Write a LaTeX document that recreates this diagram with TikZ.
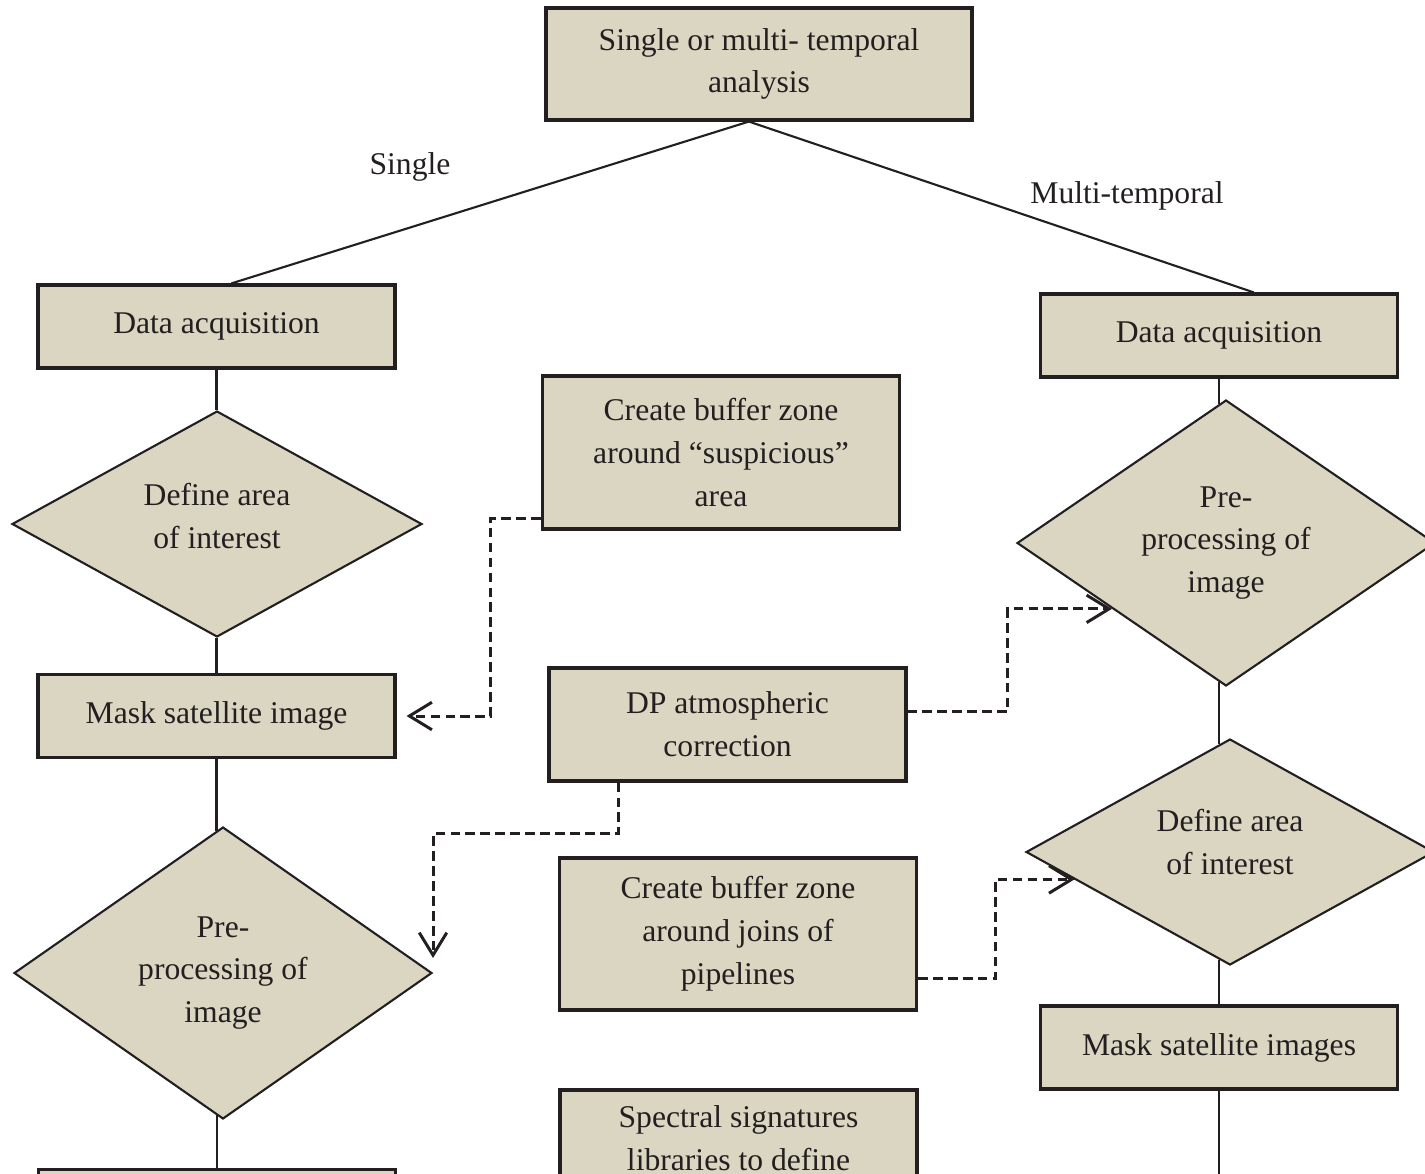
\documentclass[tikz,border=0pt]{standalone}
\usepackage{fontspec}
\setmainfont{Liberation Serif}
\usetikzlibrary{shapes.geometric,arrows.meta}
\definecolor{boxfill}{RGB}{219,214,194}
\definecolor{ink}{RGB}{35,31,32}
\tikzstyle{block} =
        [
                rectangle,
                draw = ink,
                fill = boxfill,
                line width = 1.8pt,
                align = center,
                inner sep = 0pt,
                minimum width = 7.14cm,
                minimum height = 1.66cm
        ]
\tikzstyle{decision} =
        [
                diamond,
                draw = ink,
                fill = boxfill,
                line width = 1.2pt,
                align = center,
                aspect = 1.6,
                inner sep = 0pt
        ]
\tikzstyle{line} =
        [
                draw = ink,
                line width = 1.2pt
        ]
\tikzstyle{hint} =
        [
                draw = ink,
                line width = 1.7pt,
                dash pattern = on 5.5pt off 3pt,
                -{Straight Barb[length=0.45cm,width=0.55cm,line width=1.7pt]}
        ]

\begin{document}
\begin{tikzpicture}[x=0.02cm, y=-0.02cm, font=\fontsize{18}{24.4}\selectfont, text=ink]
    \useasboundingbox (0,0) rectangle (1425,1173);
    \clip (0,0) rectangle (1425,1173);
    % top
    \node [block, minimum width = 8.52cm, minimum height = 2.24cm] (analysis) at (759,64) {Single or multi- temporal\\analysis};
    \node (single-label) at (410,167) {Single};
    \node (multi-label) at (1127,196) {Multi-temporal};
    % single branch
    \node [block] (acq-single) at (216.5,326.5) {Data acquisition};
    \node [decision, minimum width = 8.2cm, minimum height = 4.52cm, text depth = 0.32cm] (area-single) at (217,524) {Define area\\of interest};
    \node [block] (mask-single) at (216.5,716) {Mask satellite image};
    \node [decision, minimum width = 8.36cm, minimum height = 5.84cm] (preproc-single) at (223,973) {Pre-\\processing of\\image};
    \node [block] (next-single) at (217,1211) {};
    % middle
    \node [block, minimum height = 3.06cm] (buffer-suspicious) at (721,452.5) {Create buffer zone\\around “suspicious”\\area};
    \node [block, minimum height = 2.26cm] (dp-correction) at (727.5,724.5) {DP atmospheric\\correction};
    \node [block, minimum height = 3.04cm] (buffer-joins) at (738,934) {Create buffer zone\\around joins of\\pipelines};
    \node [block, minimum height = 3.04cm] (spectral) at (738.5,1166) {Spectral signatures\\libraries to define\\\strut};
    % multi-temporal branch
    \node [block] (acq-multi) at (1219,335.5) {Data acquisition};
    \node [decision, minimum width = 8.36cm, minimum height = 5.72cm] (preproc-multi) at (1226,543) {Pre-\\processing of\\image};
    \node [decision, minimum width = 8.16cm, minimum height = 4.52cm, text depth = 0.4cm] (area-multi) at (1230,852) {Define area\\of interest};
    \node [block] (mask-multi) at (1219,1047.5) {Mask satellite images};
    \coordinate (multi-end) at (1219,1185);

    \path [line] (analysis.260) -- (acq-single.71);
    \path [line] (analysis.260) -- (acq-multi.51);
    \path [line] (acq-single.south) -- (acq-single.south |- area-single.north);
    \path [line] (mask-single.north |- area-single.south) -- (mask-single.north);
    \path [line] (mask-single.south) -- (mask-single.south |- preproc-single.93);
    \path [line] (next-single.north |- preproc-single.267) -- (next-single.north);
    \path [line] (acq-multi.south) -- (acq-multi.south |- preproc-multi.93);
    \path [line] (acq-multi.south |- preproc-multi.267) -- (acq-multi.south |- area-multi.96);
    \path [line] (mask-multi.north |- area-multi.264) -- (mask-multi.north);
    \path [line] (mask-multi.south) -- (multi-end);

    \path [hint, shorten > = 0.2cm] (buffer-suspicious.200) -- ++(-50,0) |- (mask-single.east);
    \path [hint, shorten > = 0.3cm] (dp-correction.208) -- ++(0,51) -| (preproc-single.east);
    \path [hint] (dp-correction.4) -- ++(100,0) |- (preproc-multi.210);
    \path [hint] (buffer-joins.-14) -- ++(77,0) |- (area-multi.190);
\end{tikzpicture}
\end{document}
